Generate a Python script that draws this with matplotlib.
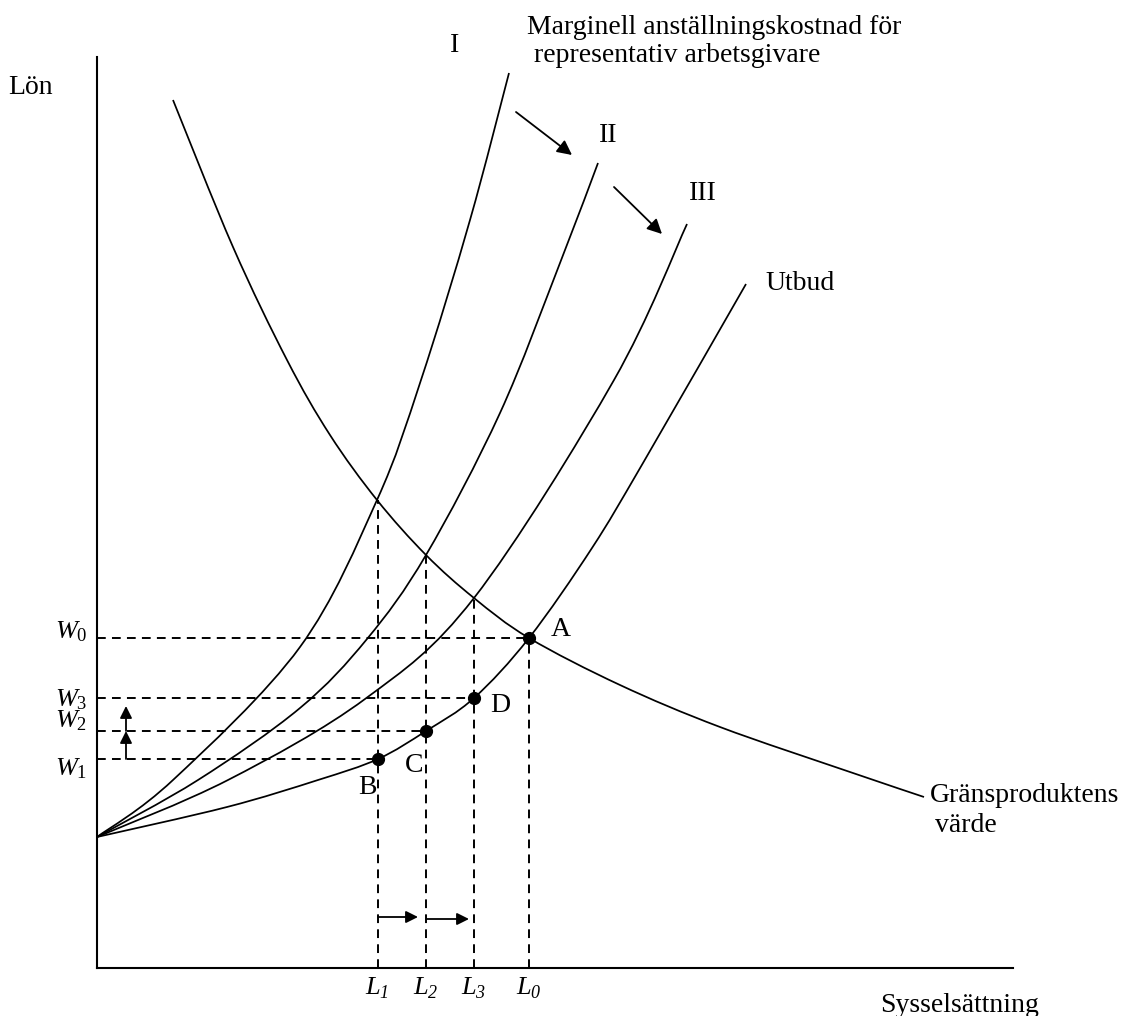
import matplotlib
matplotlib.use("Agg")
import matplotlib.pyplot as plt
from matplotlib.patches import Rectangle, PathPatch
from matplotlib.path import Path

plt.rcParams['font.family'] = ['Liberation Serif', 'DejaVu Serif']
plt.rcParams['mathtext.fontset'] = 'custom'
plt.rcParams['mathtext.rm'] = 'Liberation Serif'
plt.rcParams['mathtext.it'] = 'Liberation Serif:italic'

# employment (x) and wage (y), origin at the axis corner
L1, L2, L3, L0 = 281, 329, 377, 432
W1, W2, W3, W0 = 209, 237, 270, 330

# marginal hiring cost curves I, II, III
mc1_x = [0, 76, 203, 280, 324, 373, 412]
mc1_y = [131, 188, 321, 468, 588, 748, 895]
mc2_x = [0, 101, 203, 270, 329, 403, 463, 501]
mc2_y = [131, 188, 260, 329, 413, 555, 705, 805]
mc3_x = [0, 131, 268, 377, 517, 590]
mc3_y = [131, 188, 269, 370, 588, 744]

# supply (Utbud)
sup_x = [0, 130, 221, 281, 329, 377, 432, 495, 546, 649]
sup_y = [131, 161, 188, 209, 237, 270, 330, 420, 505, 684]

# value of marginal product (Gränsproduktens värde)
vmp_x = [76, 136, 190, 233, 280, 329, 377, 432, 523, 623, 753, 827]
vmp_y = [868, 721, 608, 533, 468, 413, 370, 330, 283, 241, 196, 171]

# points A, D, C, B
pt_x = [L0, L3, L2, L1]
pt_y = [W0, W3, W2, W1]


def smooth_curve(xs, ys):
    # bezier path through the read points (catmull-rom handles)
    pts = list(zip(xs, ys))
    verts = [pts[0]]
    codes = [Path.MOVETO]
    for i in range(len(pts) - 1):
        p0 = pts[i - 1] if i > 0 else pts[i]
        p1 = pts[i]
        p2 = pts[i + 1]
        p3 = pts[i + 2] if i + 2 < len(pts) else p2
        c1 = (p1[0] + (p2[0] - p0[0]) / 6, p1[1] + (p2[1] - p0[1]) / 6)
        c2 = (p2[0] - (p3[0] - p1[0]) / 6, p2[1] - (p3[1] - p1[1]) / 6)
        verts += [c1, c2, p2]
        codes += [Path.CURVE4] * 3
    return Path(verts, codes)


fig = plt.figure(figsize=(11.35, 10.16), dpi=100)
ax = fig.add_axes([0, 0, 1, 1])
ax.set_xlim(-97, 1038)
ax.set_ylim(-48, 968)
ax.axis('off')

lw = 1.25
for xs, ys in [(mc1_x, mc1_y), (mc2_x, mc2_y), (mc3_x, mc3_y),
               (sup_x, sup_y), (vmp_x, vmp_y)]:
    ax.add_patch(PathPatch(smooth_curve(xs, ys), facecolor='none',
                           edgecolor='black', lw=lw))

# axes
ax.plot([0, 0], [0, 911], color='black', lw=1.5)
ax.plot([0, 916], [0, 0], color='black', lw=1.5)

# dashed guides
dash = dict(color='black', lw=1.4, linestyle=(0, (4.5, 3.2)))
for w, l in zip([W0, W3, W2, W1], [L0, L3, L2, L1]):
    ax.plot([0, l], [w, w], **dash)
ax.plot([L1, L1], [0, 468], **dash)
ax.plot([L2, L2], [0, 413], **dash)
ax.plot([L3, L3], [0, 370], **dash)
ax.plot([L0, L0], [0, W0], **dash)

ax.plot(pt_x, pt_y, 'o', color='black', markersize=8.5, zorder=5)

# arrows
arr = dict(arrowstyle='-|>', color='black', lw=1.3, mutation_scale=18,
           shrinkA=0, shrinkB=0)
big = dict(arr, mutation_scale=22)
ax.annotate('', xy=(475, 813), xytext=(419, 856), arrowprops=big)
ax.annotate('', xy=(565, 734), xytext=(517, 781), arrowprops=big)
ax.annotate('', xy=(321, 51), xytext=(L1, 51), arrowprops=arr)
ax.annotate('', xy=(372, 49), xytext=(L2 + 1, 49), arrowprops=arr)
ax.annotate('', xy=(29, W2), xytext=(29, W1), arrowprops=arr)
ax.annotate('', xy=(29, 262), xytext=(29, W2), arrowprops=arr)

fs = 20
ax.text(-89, 881, 'Lön', fontsize=fs, va='center', ha='left')
ax.text(358, 923, 'I', fontsize=fs, va='center', ha='center')
ax.text(430, 941, 'Marginell anställningskostnad för', fontsize=fs, va='center', ha='left')
ax.text(437, 913, 'representativ arbetsgivare', fontsize=fs, va='center', ha='left')
ax.text(511, 833, 'II', fontsize=fs, va='center', ha='center')
ax.text(606, 774, 'III', fontsize=fs, va='center', ha='center')
ax.text(668, 684, 'Utbud', fontsize=fs, va='center', ha='left')
ax.text(833, 173, 'Gränsproduktens', fontsize=fs, va='center', ha='left')
ax.text(838, 143, 'värde', fontsize=fs, va='center', ha='left')
ax.text(783, -37, 'Sysselsättning', fontsize=fs, va='center', ha='left')

ax.text(454, 338, 'A', fontsize=fs, va='center', ha='left')
ax.text(403, 263, 'D', fontsize=fs, va='center', ha='center')
ax.text(270, 180, 'B', fontsize=fs, va='center', ha='center')
ctext = ax.text(317, 203, 'C', fontsize=fs, va='center', ha='center')
ctext.set_clip_path(Rectangle((300, 194), 30, 40, transform=ax.transData))
ctext.set_clip_on(True)

for lab, w in zip(['0', '3', '2', '1'], [336, 268, 247, 199]):
    ax.text(-42, w, '$W_{%s}$' % lab, fontsize=19, va='center', ha='left')
for lab, l in zip(['1', '2', '3', '0'], [L1 - 5, L2 - 5, L3 - 5, L0 - 5]):
    ax.text(l, -20, 'L', fontsize=19, style='italic', va='center', ha='center')
    ax.text(l + 11, -26, lab, fontsize=13, style='italic', va='center', ha='center')

fig.savefig('out.png', dpi=100)
